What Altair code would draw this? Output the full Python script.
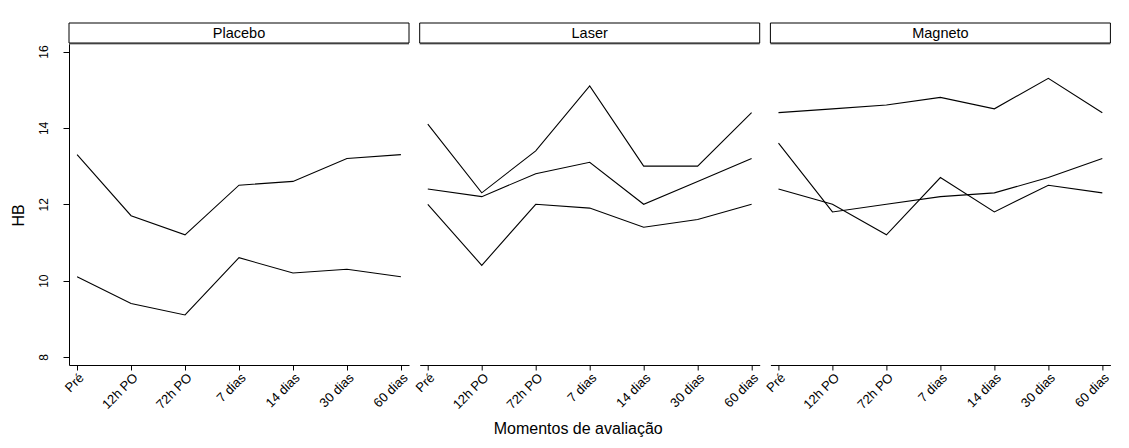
import altair as alt
import pandas as pd

momentos = ["Pré", "12h PO", "72h PO", "7 dias", "14 dias", "30 dias", "60 dias"]
grupos = ["Placebo", "Laser", "Magneto"]

placebo_1 = [13.3, 11.7, 11.2, 12.5, 12.6, 13.2, 13.3]
placebo_2 = [10.1, 9.4, 9.1, 10.6, 10.2, 10.3, 10.1]

laser_1 = [14.1, 12.3, 13.4, 15.1, 13.0, 13.0, 14.4]
laser_2 = [12.4, 12.2, 12.8, 13.1, 12.0, 12.6, 13.2]
laser_3 = [12.0, 10.4, 12.0, 11.9, 11.4, 11.6, 12.0]

magneto_1 = [14.4, 14.5, 14.6, 14.8, 14.5, 15.3, 14.4]
magneto_2 = [13.6, 11.8, 12.0, 12.2, 12.3, 12.7, 13.2]
magneto_3 = [12.4, 12.0, 11.2, 12.7, 11.8, 12.5, 12.3]

series_by_group = {
    "Placebo": [placebo_1, placebo_2],
    "Laser": [laser_1, laser_2, laser_3],
    "Magneto": [magneto_1, magneto_2, magneto_3],
}

FONT = "Liberation Sans"
W, H = 340, 322
Y_DOMAIN = [7.79, 16.225]


def x_axis_for(idx):
    common = dict(
        labelAngle=-45, labelAlign="right", labelBaseline="top",
        labelFontSize=13, labelFont=FONT, labelColor="black",
        labelOverlap=False, labelPadding=1, labelBound=False, labelFlush=False,
        tickSize=5, tickColor="black", domainColor="black", grid=False,
    )
    if idx == 1:
        return alt.Axis(
            title="Momentos de avaliação", titleX=158, titleY=68,
            titleAlign="center", titleBaseline="alphabetic",
            titleFontSize=16, titleFontWeight="normal", titleColor="black",
            titleFont=FONT, **common,
        )
    return alt.Axis(title=None, **common)


def panel(name, idx):
    rows = []
    for s, vals in enumerate(series_by_group[name]):
        for m, v in zip(momentos, vals):
            rows.append({"momento": m, "hb": v, "serie": f"s{s}"})
    df = pd.DataFrame(rows)

    if idx == 0:
        y_axis = alt.Axis(
            title="HB", titleX=-51, titleY=172, titleAngle=270,
            titleAlign="center", titleBaseline="middle",
            titleFontSize=16, titleFontWeight="normal", titleColor="black",
            titleFont=FONT,
            values=[8, 10, 12, 14, 16], labelAngle=270, labelFontSize=12,
            labelFont=FONT, labelColor="black", labelPadding=13,
            tickSize=6, tickColor="black", domainColor="black", grid=False,
        )
        y_enc = alt.Y("hb:Q", scale=alt.Scale(domain=Y_DOMAIN, nice=False, zero=False), axis=y_axis)
    else:
        y_enc = alt.Y("hb:Q", scale=alt.Scale(domain=Y_DOMAIN, nice=False, zero=False), axis=None)

    lines = alt.Chart(df).mark_line(color="black", strokeWidth=1.1).encode(
        x=alt.X("momento:N", sort=momentos,
                scale=alt.Scale(type="point", padding=0.15), axis=x_axis_for(idx)),
        y=y_enc,
        detail="serie:N",
    )

    strip_df = pd.DataFrame({"grupo": [name]})
    shadow = alt.Chart(strip_df).mark_rule(color="#808080", strokeWidth=2).encode(
        x=alt.value(0), x2=alt.value(W), y=alt.value(0.5)
    )
    rect = alt.Chart(strip_df).mark_rect(fill="white", stroke="black", strokeWidth=1).encode(
        x=alt.value(0), x2=alt.value(W), y=alt.value(-20), y2=alt.value(0)
    )
    text = alt.Chart(strip_df).mark_text(
        fontSize=14.5, font=FONT, baseline="middle", align="center", color="black"
    ).encode(x=alt.value(W / 2), y=alt.value(-9.5), text="grupo:N")

    return alt.layer(lines, shadow, rect, text).properties(width=W, height=H)


chart = alt.hconcat(
    *[panel(g, i) for i, g in enumerate(grupos)],
    spacing=10.7, bounds="flush",
).properties(
    padding={"left": 10, "top": 22, "right": 5, "bottom": 5},
    background="white",
).configure_view(stroke=None)

chart.save("out.html", embed_options={"renderer": "svg", "actions": False})
